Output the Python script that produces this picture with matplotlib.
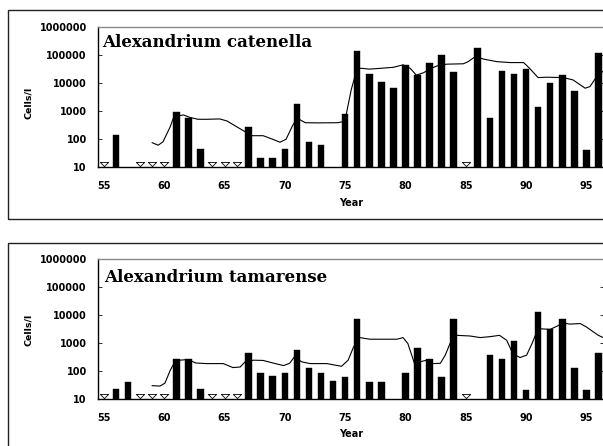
import matplotlib
matplotlib.use("Agg")
import matplotlib.pyplot as plt
from matplotlib.path import Path
from matplotlib.patches import Rectangle
from matplotlib.ticker import FixedLocator, NullLocator

# ---------------- data ----------------
titles = ["Alexandrium catenella", "Alexandrium tamarense"]
x_ticks = [55, 60, 65, 70, 75, 80, 85, 90, 95]
x_tick_labels = ["55", "60", "65", "70", "75", "80", "85", "90", "95"]
y_ticks = [10, 100, 1000, 10000, 100000, 1000000]
y_tick_labels = ["10", "100", "1000", "10000", "100000", "1000000"]
y_label = "Cells/l"
x_label = "Year"

# A. catenella: annual maxima (bars)
cat_years = [56, 61, 62, 63, 67, 68, 69, 70, 71, 72, 73, 75, 76, 77, 78, 79, 80,
             81, 82, 83, 84, 86, 87, 88, 89, 90, 91, 92, 93, 94, 95, 96]
cat_values = [141, 950, 555, 44, 278, 22, 22, 44, 1740, 81, 61, 770, 138000,
              21500, 10500, 6500, 44000, 18700, 51000, 99000, 24500, 170000,
              565, 27500, 20000, 31000, 1400, 9800, 19000, 5200, 42, 115000]
cat_nd_years = [55, 58, 59, 60, 64, 65, 66, 85]   # not detected
cat_line_years = [59.0, 59.5, 59.9, 60.5, 60.75, 61.05, 61.6, 62.1, 62.8, 63.5,
                  64.6, 65.2, 66.0, 66.7, 67.2, 68.2, 69.0, 69.6, 70.1, 70.6,
                  71.0, 71.7, 72.8, 74.4, 74.8, 75.0, 75.5, 76.0, 76.4, 77.0,
                  77.9, 79.0, 79.8, 80.4, 80.9, 81.5, 82.0, 82.6, 83.4, 84.8,
                  85.2, 85.8, 86.5, 87.6, 88.7, 89.8, 90.3, 91.0, 91.7, 93.1,
                  93.9, 94.9, 95.3, 95.9, 96.5]
cat_line_values = [75, 61, 81, 278, 555, 670, 725, 600, 510, 510,
                   525, 445, 278, 185, 133, 133, 99, 78, 99, 278,
                   565, 385, 380, 385, 420, 480, 5600, 33000, 33000, 31000,
                   33000, 36000, 44000, 33000, 19000, 23000, 31000, 40000, 46500, 48000,
                   57000, 87000, 70000, 57000, 53000, 53000, 33000, 15500, 16000, 15500,
                   12800, 6500, 7400, 17800, 28000]

# A. tamarense
tam_years = [56, 57, 61, 62, 63, 67, 68, 69, 70, 71, 72, 73, 74, 75, 76, 77, 78,
             80, 81, 82, 83, 84, 87, 88, 89, 90, 91, 92, 93, 94, 95, 96]
tam_values = [22, 42, 264, 264, 22, 435, 87, 66, 87, 565, 132, 87, 44, 63, 7100,
              42, 42, 83, 690, 264, 63, 7100, 385, 264, 1170, 21, 12600, 3300,
              7400, 132, 21, 435]
tam_nd_years = [55, 58, 59, 60, 64, 65, 66, 85]
tam_line_years = [59.0, 59.65, 60.06, 60.5, 60.8, 61.3, 62.0, 62.6, 63.5, 64.9,
                  65.7, 66.3, 66.7, 67.4, 68.2, 69.0, 69.9, 70.4, 70.8, 71.4,
                  72.1, 73.5, 74.7, 75.25, 75.7, 76.2, 77.05, 79.3, 79.8, 80.2,
                  80.8, 81.2, 81.75, 82.3, 82.9, 83.3, 83.7, 84.25, 85.35, 86.2,
                  87.0, 87.8, 88.4, 88.9, 89.5, 90.05, 90.5, 91.0, 92.0, 92.55,
                  93.1, 93.6, 94.5, 95.0, 95.6, 96.0, 96.5]
tam_line_values = [30, 29, 37, 107, 185, 245, 260, 195, 185, 185,
                   133, 140, 213, 245, 240, 195, 157, 190, 325, 213,
                   185, 185, 148, 245, 730, 1580, 1380, 1380, 1580, 970,
                   163, 213, 245, 185, 190, 370, 970, 1900, 1800, 1580,
                   1700, 1900, 1260, 425, 305, 370, 970, 3300, 3100, 4000,
                   5300, 4800, 5000, 3800, 2500, 1900, 1500]

panels = [
    (titles[0], cat_years, cat_values, cat_nd_years, cat_line_years, cat_line_values),
    (titles[1], tam_years, tam_values, tam_nd_years, tam_line_years, tam_line_values),
]

# ---------------- layout (pixels) ----------------
W, H = 603, 446
fig = plt.figure(figsize=(W / 100, H / 100), dpi=100)
fig.patch.set_facecolor("white")

def fx(x):
    return x / W

def fy(y):
    return 1 - y / H

axes_px = [(97.9, 26.7, 604.4, 167.3), (97.9, 259.3, 604.4, 399.0)]
box_px = [(8.3, 10.0, 720, 218.7), (8.3, 242.7, 720, 470)]
ylabel_pos = [(28.3, 103.3), (28.3, 329.8)]
xlabel_pos = [(351, 203), (351, 434)]
title_pos = [(101.7, 46.7), (103.8, 281.7)]   # left, baseline (px)

tri = Path([(-1, 0.5), (1, 0.5), (0, -0.5), (-1, 0.5)],
           [Path.MOVETO, Path.LINETO, Path.LINETO, Path.CLOSEPOLY])

tick_font = dict(family="DejaVu Sans", weight="bold", size=7)

for i, (title, yrs, vals, nd, lx, lv) in enumerate(panels):
    l, t, r, b = axes_px[i]
    # outer frame
    bl, bt, br, bb = box_px[i]
    fig.patches.append(Rectangle((fx(bl), fy(bb)), fx(br - bl), (bb - bt) / H,
                                 transform=fig.transFigure, fill=False,
                                 edgecolor="#222222", linewidth=1.0, clip_on=False))
    ax = fig.add_axes([fx(l), fy(b), fx(r - l), (b - t) / H])
    ax.set_yscale("log")
    ax.set_xlim(54.5, 96.5)
    ax.set_ylim(10, 1000000)

    ax.bar(yrs, [v - 10 for v in vals], bottom=10, width=0.55,
           color="black", edgecolor="black", linewidth=0.3, zorder=2)
    ax.plot(lx, lv, color="black", linewidth=0.8, zorder=3)
    ax.plot(nd, [12.7] * len(nd), linestyle="none", marker=tri, markersize=6,
            markerfacecolor="white", markeredgecolor="black",
            markeredgewidth=0.6, zorder=4, clip_on=False)

    ax.xaxis.set_major_locator(FixedLocator(x_ticks))
    ax.set_xticklabels(x_tick_labels, fontdict=tick_font)
    ax.xaxis.set_minor_locator(NullLocator())
    ax.yaxis.set_major_locator(FixedLocator(y_ticks))
    ax.set_yticklabels(y_tick_labels, fontdict=tick_font)
    ax.yaxis.set_minor_locator(NullLocator())
    ax.tick_params(axis="x", length=0, pad=10)
    ax.tick_params(axis="y", direction="in", length=3, width=0.7,
                   color="#333333", pad=8, right=True)

    for s in ["left", "bottom"]:
        ax.spines[s].set_color("black")
        ax.spines[s].set_linewidth(1.0)
    ax.spines["top"].set_color("#888888")
    ax.spines["top"].set_linewidth(1.0)
    ax.spines["right"].set_color("#888888")

    tx, ty = title_pos[i]
    fig.text(fx(tx), fy(ty), title, ha="left", va="baseline",
             family="DejaVu Serif", weight="bold", fontsize=12, color="black")

    fig.text(fx(ylabel_pos[i][0]), fy(ylabel_pos[i][1]), y_label, rotation=90,
             ha="center", va="center", family="DejaVu Sans", weight="bold", size=6.8)
    fig.text(fx(xlabel_pos[i][0]), fy(xlabel_pos[i][1]), x_label,
             ha="center", va="center", family="DejaVu Sans", weight="bold", size=7)

fig.savefig("out.png", dpi=100)
